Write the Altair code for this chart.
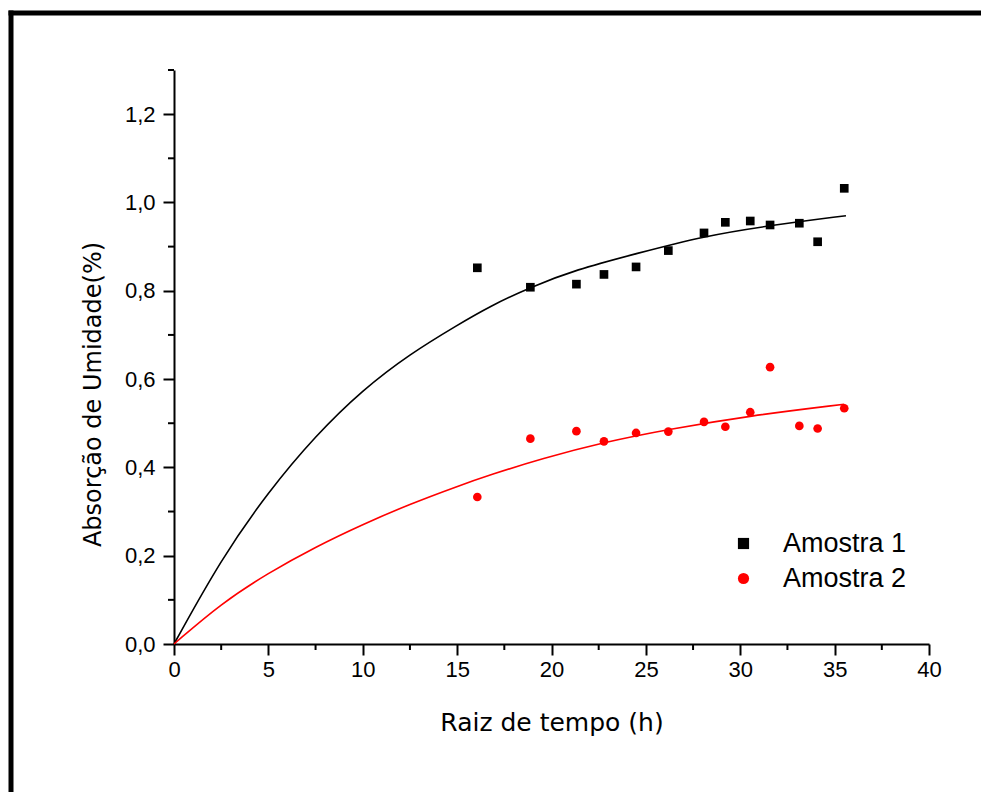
import altair as alt
import pandas as pd

# Measured data (x = raiz de tempo, y = absorção)
x_vals = [16.07, 18.88, 21.32, 22.78, 24.48, 26.19, 28.08, 29.21, 30.53, 31.58, 33.13, 34.10, 35.51]
amostra1 = [0.852, 0.808, 0.815, 0.837, 0.854, 0.891, 0.931, 0.955, 0.958, 0.949, 0.953, 0.911, 1.032]
amostra2 = [0.333, 0.465, 0.482, 0.459, 0.478, 0.481, 0.503, 0.492, 0.525, 0.627, 0.494, 0.488, 0.534]

# Fitted curves
fit1_x = [0, 2.5, 5, 7.5, 10, 12.5, 15, 16.74, 18.88, 21.3, 24.48, 28.08, 31.58, 35.6]
fit1_y = [0, 0.193, 0.345, 0.472, 0.576, 0.657, 0.722, 0.765, 0.808, 0.848, 0.884, 0.924, 0.948, 0.970]
fit2_x = [0, 2.5, 5, 7.5, 10, 12.5, 15, 16.74, 19.5, 22.78, 26.17, 30.5, 35.51]
fit2_y = [0, 0.092, 0.161, 0.220, 0.271, 0.317, 0.357, 0.383, 0.420, 0.457, 0.486, 0.517, 0.543]

series_names = ["Amostra 1", "Amostra 2"]
x_major = [0, 5, 10, 15, 20, 25, 30, 35, 40]
x_minor = [2.5, 7.5, 12.5, 17.5, 22.5, 27.5, 32.5, 37.5]
y_major = [0, 0.2, 0.4, 0.6, 0.8, 1.0, 1.2]
y_minor = [0.1, 0.3, 0.5, 0.7, 0.9, 1.1, 1.3]

pts = pd.DataFrame({
    "x": x_vals + x_vals,
    "y": amostra1 + amostra2,
    "serie": [series_names[0]] * len(x_vals) + [series_names[1]] * len(x_vals),
})
fit1 = pd.DataFrame({"x": fit1_x, "y": fit1_y})
fit2 = pd.DataFrame({"x": fit2_x, "y": fit2_y})
xminor_df = pd.DataFrame({"x": x_minor})
yminor_df = pd.DataFrame({"y": y_minor})
one = pd.DataFrame({"k": [0]})

xscale = alt.Scale(domain=[0, 40], nice=False, zero=False)
yscale = alt.Scale(domain=[0, 1.3], nice=False, zero=False)

xaxis = alt.Axis(
    values=x_major, title="Raiz de tempo (h)", titleFont="DejaVu Sans",
    titleFontSize=25, titleFontWeight="normal", titleColor="black",
    titleY=86, titleBaseline="alphabetic",
    labelFont="Liberation Sans", labelFontSize=22, labelColor="black",
    labelPadding=4, tickSize=11, tickWidth=2, tickColor="black",
    domainColor="black", domainWidth=2, grid=False, labelFlush=False,
    labelOverlap=False,
)
yaxis = alt.Axis(
    values=y_major, title="Absorção de Umidade(%)", titleFont="DejaVu Sans",
    titleFontSize=24, titleFontWeight="normal", titleColor="black",
    titleAngle=270, titleX=-74, titleY=324, titleBaseline="alphabetic",
    titleAlign="center",
    labelExpr="replace(format(datum.value, '.1f'), '.', ',')",
    labelFont="Liberation Sans", labelFontSize=22, labelColor="black",
    labelPadding=8, tickSize=11, tickWidth=2, tickColor="black",
    domainColor="black", domainWidth=2, grid=False, labelFlush=False,
    labelOverlap=False,
)

legend = alt.Legend(
    title=None, orient="none", legendX=556, legendY=460, padding=0,
    labelFont="Liberation Sans", labelFontSize=27, labelColor="black",
    symbolSize=125, labelOffset=26, rowPadding=7, symbolStrokeWidth=0,
)

points = alt.Chart(pts).mark_point(filled=True, size=75, opacity=1).encode(
    x=alt.X("x:Q", scale=xscale, axis=xaxis),
    y=alt.Y("y:Q", scale=yscale, axis=yaxis),
    shape=alt.Shape("serie:N", scale=alt.Scale(domain=series_names, range=["square", "circle"]),
                    legend=legend),
    color=alt.Color("serie:N", scale=alt.Scale(domain=series_names, range=["black", "red"]),
                    legend=legend),
)

line1 = alt.Chart(fit1).mark_line(color="black", strokeWidth=1.6, interpolate="basis").encode(
    x=alt.X("x:Q", scale=xscale, axis=xaxis),
    y=alt.Y("y:Q", scale=yscale, axis=yaxis),
)
line2 = alt.Chart(fit2).mark_line(color="red", strokeWidth=1.6, interpolate="basis").encode(
    x=alt.X("x:Q", scale=xscale, axis=xaxis),
    y=alt.Y("y:Q", scale=yscale, axis=yaxis),
)

xminor = alt.Chart(xminor_df).mark_rule(color="black", strokeWidth=2).encode(
    x=alt.X("x:Q", scale=xscale, axis=xaxis),
    y=alt.value(574), y2=alt.value(580),
)
yminor = alt.Chart(yminor_df).mark_rule(color="black", strokeWidth=2).encode(
    y=alt.Y("y:Q", scale=yscale, axis=yaxis),
    x=alt.value(-6), x2=alt.value(0),
)

frame_top = alt.Chart(one).mark_rule(color="black", strokeWidth=5).encode(
    x=alt.value(-165.5), x2=alt.value(820), y=alt.value(-57),
)
frame_left = alt.Chart(one).mark_rule(color="black", strokeWidth=5).encode(
    x=alt.value(-163), y=alt.value(-59.5), y2=alt.value(740),
)

chart = alt.layer(frame_top, frame_left, xminor, yminor, line1, line2, points).properties(
    width=755, height=574,
    background="white",
    autosize=alt.AutoSizeParams(type="none"),
    padding={"left": 166, "top": 62, "right": 52, "bottom": 148},
).configure_view(stroke=None)

chart.save("out.html", embed_options={"renderer": "svg", "actions": False})
